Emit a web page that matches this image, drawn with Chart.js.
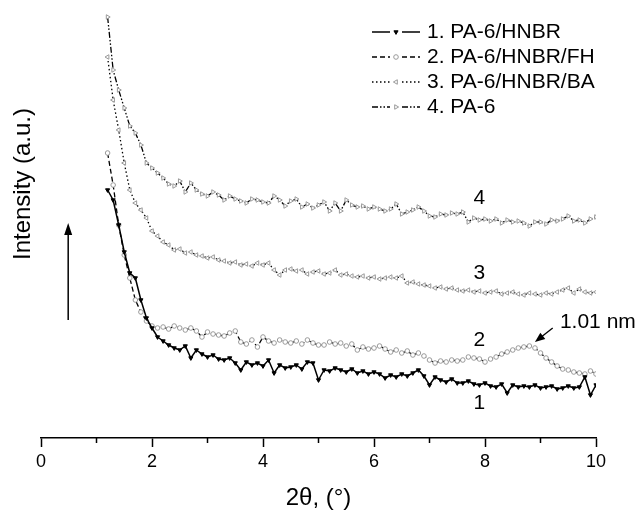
<!DOCTYPE html>
<html><head><meta charset="utf-8">
<style>html,body{margin:0;padding:0;background:#fff;}#wrap{width:639px;height:515px;}</style>
<script src="https://cdn.jsdelivr.net/npm/chart.js@4/dist/chart.umd.min.js"></script>
</head><body><div id="wrap"><canvas id="c" width="639" height="515"></canvas></div>
<script>
// ---- data ----
const X_START = 1.2, X_STEP = 0.1;
const seriesNames = ['1. PA-6/HNBR', '2. PA-6/HNBR/FH', '3. PA-6/HNBR/BA', '4. PA-6'];
const s1 = [248,238,213,186,165,160,138,120,110,101,
  97,93,90,88,92,80,88,84,81,83,
  79,78,80,75,68,76,73,75,72,78,
  65,73,70,71,73,69,76,75,58,68,
  67,70,68,66,69,65,67,64,66,64,
  60,63,61,64,62,65,68,62,53,61,
  58,56,59,55,55,57,54,53,55,52,
  51,54,45,53,51,52,51,53,50,51,
  52,49,50,52,50,51,61,43,53];
const s2 = [285,253,213,183,160,138,126,117,112,110,
  111,109,112,110,108,110,107,101,106,104,
  103,102,105,107,96,94,98,91,101,97,
  95,98,96,95,97,94,98,95,93,93,
  96,94,95,92,94,88,91,89,90,92,
  89,86,88,85,87,83,85,82,78,75,
  77,76,78,77,78,81,80,79,76,79,
  81,84,86,88,90,91,92,90,85,80,
  76,72,69,68,66,65,64,67,64];
const s3 = [381,338,308,275,248,235,228,220,207,202,
  196,193,188,189,185,186,183,182,180,181,
  178,177,175,176,173,174,172,175,173,175,
  168,163,168,169,167,168,164,166,167,164,
  165,168,163,164,162,161,162,160,161,159,
  160,161,160,162,155,156,154,153,152,150,
  151,149,150,148,147,148,146,147,145,146,
  147,144,145,146,144,143,145,144,143,145,
  144,146,148,150,145,149,146,145,146];
const s4 = [421,368,348,330,312,305,293,275,270,265,
  260,254,252,257,246,255,248,244,242,246,
  243,238,242,239,237,235,239,238,236,235,
  242,238,232,237,239,231,234,230,233,236,
  227,235,227,238,233,231,232,229,231,229,
  227,229,234,224,226,228,231,227,222,221,
  224,223,225,224,226,216,220,218,219,217,
  219,215,218,216,217,215,212,216,216,214,
  218,217,219,222,217,218,215,219,221];
const majorTicks = [0,2,4,6,8,10];
const minorTicks = [1,3,5,7,9];
const curveLabels = ['1','2','3','4'];
const curveLabelX = 7.9;
const curveLabelY = [35,98,165,240];
const peakText = '1.01 nm';
const peakTextPos = [9.35,116];
const peakArrow = [9.22,110,8.9,96];
const upArrow = [0.49,118,0.49,215];

const xs = s1.map((_, i) => +(X_START + i * X_STEP).toFixed(2));
const toPts = arr => arr.map((v, i) => ({x: xs[i], y: v}));

const FONT = "'Liberation Sans', Arial, Helvetica, sans-serif";
Chart.defaults.font.family = FONT;
Chart.defaults.color = '#000';

const grey = '#9a9a9a';
const datasets = [
  {label: seriesNames[0], data: toPts(s1), borderColor: '#000', borderWidth: 1.5, borderDash: [],
   pointStyle: 'triangle', rotation: 180, pointRadius: 2.4, pointBorderWidth: 1,
   pointBackgroundColor: '#000', pointBorderColor: '#000'},
  {label: seriesNames[1], data: toPts(s2), borderColor: '#000', borderWidth: 1.3, borderDash: [5,3],
   pointStyle: 'circle', rotation: 0, pointRadius: 2.3, pointBorderWidth: 1,
   pointBackgroundColor: '#fff', pointBorderColor: grey},
  {label: seriesNames[2], data: toPts(s3), borderColor: '#000', borderWidth: 1.3, borderDash: [1.5,2.5],
   pointStyle: 'triangle', rotation: 270, pointRadius: 2.6, pointBorderWidth: 1,
   pointBackgroundColor: '#fff', pointBorderColor: grey},
  {label: seriesNames[3], data: toPts(s4), borderColor: '#000', borderWidth: 1.3, borderDash: [6,2,1.5,2,1.5,2],
   pointStyle: 'triangle', rotation: 90, pointRadius: 2.6, pointBorderWidth: 1,
   pointBackgroundColor: '#fff', pointBorderColor: grey}
];

function arrow(ctx, x1, y1, x2, y2, len, w) {
  const a = Math.atan2(y2 - y1, x2 - x1);
  ctx.beginPath(); ctx.moveTo(x1, y1);
  ctx.lineTo(x2 - Math.cos(a) * len * 0.8, y2 - Math.sin(a) * len * 0.8); ctx.stroke();
  ctx.beginPath();
  ctx.moveTo(x2, y2);
  ctx.lineTo(x2 - Math.cos(a) * len + Math.sin(a) * w, y2 - Math.sin(a) * len - Math.cos(a) * w);
  ctx.lineTo(x2 - Math.cos(a) * len - Math.sin(a) * w, y2 - Math.sin(a) * len + Math.cos(a) * w);
  ctx.closePath(); ctx.fill();
}

const deco = {
  id: 'deco',
  afterDraw(chart) {
    const {ctx} = chart;
    const X = chart.scales.x, Y = chart.scales.y;
    ctx.save();
    ctx.strokeStyle = '#000'; ctx.fillStyle = '#000'; ctx.lineWidth = 1.5;
    // minor ticks
    minorTicks.forEach(v => {
      const px = X.getPixelForValue(v);
      ctx.beginPath(); ctx.moveTo(px, Y.bottom); ctx.lineTo(px, Y.bottom + 5); ctx.stroke();
    });
    // curve labels
    ctx.font = '21px ' + FONT; ctx.textAlign = 'center'; ctx.textBaseline = 'middle';
    curveLabels.forEach((t, i) => ctx.fillText(t, X.getPixelForValue(curveLabelX), Y.getPixelForValue(curveLabelY[i])));
    ctx.textAlign = 'left';
    ctx.fillText(peakText, X.getPixelForValue(peakTextPos[0]), Y.getPixelForValue(peakTextPos[1]));
    ctx.lineWidth = 1.3;
    arrow(ctx, X.getPixelForValue(peakArrow[0]), Y.getPixelForValue(peakArrow[1]),
          X.getPixelForValue(peakArrow[2]), Y.getPixelForValue(peakArrow[3]), 10, 4);
    // up arrow
    ctx.lineWidth = 1.5;
    arrow(ctx, X.getPixelForValue(upArrow[0]), Y.getPixelForValue(upArrow[1]),
          X.getPixelForValue(upArrow[2]), Y.getPixelForValue(upArrow[3]), 12, 4);
    // y title
    ctx.save();
    ctx.translate(23, 184); ctx.rotate(-Math.PI / 2);
    ctx.font = '24px ' + FONT; ctx.textAlign = 'center'; ctx.textBaseline = 'middle';
    ctx.fillText('Intensity (a.u.)', 0, 0);
    ctx.restore();
    // legend
    ctx.font = '21px ' + FONT; ctx.textAlign = 'left'; ctx.textBaseline = 'middle';
    chart.data.datasets.forEach((ds, i) => {
      const y = 32 + i * 25;
      const x0 = 372, x1 = 420, xm = 396;
      ctx.strokeStyle = '#000'; ctx.lineWidth = ds.borderWidth;
      ctx.setLineDash(ds.borderDash);
      ctx.beginPath(); ctx.moveTo(x0, y); ctx.lineTo(xm - 6, y); ctx.stroke();
      ctx.beginPath(); ctx.moveTo(xm + 6, y); ctx.lineTo(x1, y); ctx.stroke();
      ctx.setLineDash([]);
      ctx.fillStyle = ds.pointBackgroundColor; ctx.strokeStyle = ds.pointBorderColor; ctx.lineWidth = 1;
      Chart.helpers.drawPoint(ctx, {pointStyle: ds.pointStyle, rotation: ds.rotation, radius: ds.pointRadius, borderWidth: 1}, xm, y);
      ctx.fillStyle = '#000';
      ctx.fillText(ds.label, 427, y);
    });
    ctx.restore();
  }
};

new Chart(document.getElementById('c'), {
  type: 'line',
  data: {datasets},
  options: {
    responsive: false, animation: false, devicePixelRatio: 1,
    layout: {padding: {left: 41, right: 43, top: 13, bottom: 0}},
    plugins: {legend: {display: false}, tooltip: {enabled: false}},
    elements: {line: {tension: 0}},
    scales: {
      x: {
        type: 'linear', min: 0, max: 10,
        afterFit(s) { s.height = 77; },
        afterBuildTicks(s) { s.ticks = majorTicks.map(v => ({value: v})); },
        ticks: {font: {size: 18}, color: '#000', padding: 4, maxRotation: 0},
        grid: {display: true, drawOnChartArea: false, drawTicks: true, tickLength: 9, tickColor: '#000', tickWidth: 1.5},
        border: {display: true, color: '#000', width: 1.5},
        title: {display: true, text: '2θ, (°)', font: {size: 24}, color: '#000', padding: {top: 0, bottom: 2}}
      },
      y: {type: 'linear', min: 0, max: 425, display: false}
    }
  },
  plugins: [deco]
});
</script></body></html>
